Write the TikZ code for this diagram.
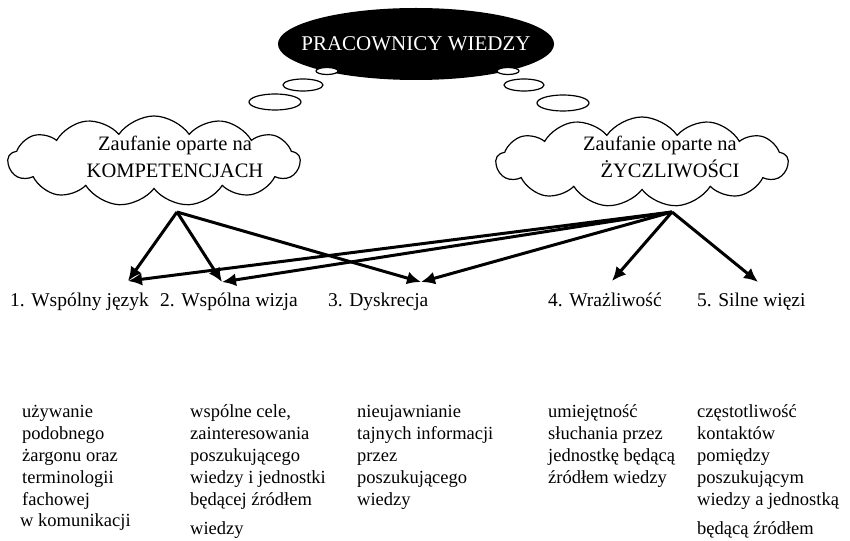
\documentclass[tikz,border=0pt]{standalone}
\usepackage{fontspec}
\setmainfont{Liberation Serif}
\usetikzlibrary{shapes,arrows.meta,positioning}
\tikzstyle{head} = [ellipse, fill=black, text=white, minimum width=272pt,
    minimum height=72pt, inner xsep=-17pt, inner ysep=0pt,
    font=\fontsize{21}{24}\selectfont]
\tikzstyle{bubble} = [ellipse, draw, fill=white, line width=1.2pt, inner sep=0pt]
\tikzstyle{trust} = [draw, cloud, cloud puffs=13, cloud puff arc=110,
    cloud ignores aspect, minimum width=292pt, minimum height=90pt,
    line width=1.2pt, inner sep=0pt]
\tikzstyle{trusttext} = [align=center, inner sep=0pt, font=\fontsize{20.5}{27}\selectfont]
\tikzstyle{feature} = [anchor=base west, inner sep=0pt, font=\fontsize{19.5}{22}\selectfont]
\tikzstyle{desc} = [anchor=north west, inner sep=0pt, align=left,
    font=\fontsize{18.5}{22}\selectfont]

\tikzstyle{link} = [-{Latex[length=14pt,width=13pt]}, line width=3pt]

\begin{document}
\begin{tikzpicture}[x=1pt, y=-1pt]
  \useasboundingbox (0,0) rectangle (850,540);
  % top of the diagram
  \node [head] (pracownicy) at (416,44) {PRACOWNICY WIEDZY};
  \node [bubble, minimum width=22pt, minimum height=7pt] (lb1) at (327,71) {};
  \node [bubble, minimum width=40pt, minimum height=12pt] (lb2) at (303,85) {};
  \node [bubble, minimum width=52pt, minimum height=16pt] (lb3) at (275,102) {};
  \node [bubble, minimum width=22pt, minimum height=7pt] (rb1) at (508,71) {};
  \node [bubble, minimum width=40pt, minimum height=12pt] (rb2) at (524,85) {};
  \node [bubble, minimum width=52pt, minimum height=16pt] (rb3) at (563,103) {};

  % two kinds of trust
  \node [trust] (kompetencje) at (154,161) {};
  \node [trusttext] (kompText) at (175,157) {Zaufanie oparte na\\KOMPETENCJACH};
  \node [trust] (zyczliwosc) at (642,162) {};
  \node [trusttext] (zyczText) at (660,157) {Zaufanie oparte na\\\hspace*{20pt}ŻYCZLIWOŚCI};
  \coordinate (kompRoot) at (177,212);
  \coordinate (zyczRoot) at (672,212);

  % five features
  \node [feature] (jezyk) at (10,306) {1. Wspólny język};
  \node [feature] (wizja) at (160,306) {2. Wspólna wizja};
  \node [feature] (dyskrecja) at (328,306) {3. Dyskrecja};
  \node [feature] (wrazliwosc) at (548,306) {4. Wrażliwość};
  \node [feature] (wiezi) at (697,306) {5. Silne więzi};
  \coordinate (jezykTip) at (128,281);
  \coordinate (wizjaTip) at (222,282);
  \coordinate (dyskrecjaTip) at (421,282);
  \coordinate (wrazliwoscTip) at (612,281);
  \coordinate (wieziTip) at (758,282);

  \draw [link] (kompRoot) -- (jezykTip);
  \draw [link] (kompRoot) -- (wizjaTip);
  \draw [link] (kompRoot) -- (dyskrecjaTip);
  \draw [link] (zyczRoot) -- (jezykTip);
  \draw [link] (zyczRoot) -- (wizjaTip);
  \draw [link] (zyczRoot) -- (dyskrecjaTip);
  \draw [link] (zyczRoot) -- (wrazliwoscTip);
  \draw [link] (zyczRoot) -- (wieziTip);

  % descriptions
  \node [desc] (jezykOpis) at (22,402)
  {\strut używanie\\podobnego\\żargonu oraz\\terminologii\\fachowej\\[-1pt]\hspace*{-2pt}w komunikacji};
  \node [desc] (wizjaOpis) at (190,402)
  {\strut wspólne cele,\\zainteresowania\\poszukującego\\wiedzy i jednostki\\będącej źródłem\\[7pt]wiedzy};
  \node [desc] (dyskrecjaOpis) at (357,402)
  {\strut nieujawnianie\\tajnych informacji\\przez\\poszukującego\\wiedzy};
  \node [desc] (wrazliwoscOpis) at (548,402)
  {\strut umiejętność\\słuchania przez\\jednostkę będącą\\źródłem wiedzy};
  \node [desc] (wieziOpis) at (697,402)
  {\strut częstotliwość\\kontaktów\\pomiędzy\\poszukującym\\wiedzy a jednostką\\[7pt]będącą źródłem};
\end{tikzpicture}
\end{document}
